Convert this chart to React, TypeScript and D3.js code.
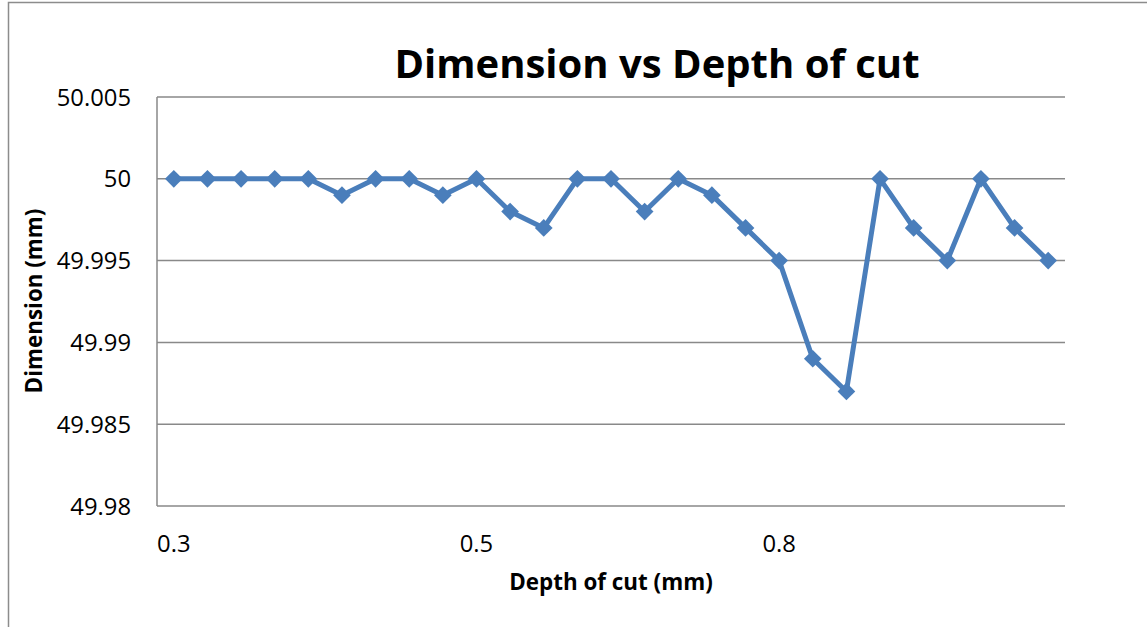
import React from "react";
import * as d3 from "d3";

const categories: number[] = [
  0.3, 0.3, 0.3, 0.3, 0.3, 0.3, 0.3, 0.3, 0.3,
  0.5, 0.5, 0.5, 0.5, 0.5, 0.5, 0.5, 0.5, 0.5,
  0.8, 0.8, 0.8, 0.8, 0.8, 0.8, 0.8, 0.8, 0.8,
];
const dimension: number[] = [
  50, 50, 50, 50, 50, 49.999, 50, 50, 49.999,
  50, 49.998, 49.997, 50, 50, 49.998, 50, 49.999, 49.997,
  49.995, 49.989, 49.987, 50, 49.997, 49.995, 50, 49.997, 49.995,
];
const yTicks: number[] = [49.98, 49.985, 49.99, 49.995, 50, 50.005];
const xLabelEvery = 9;

const W = 1147;
const H = 627;
const plot = { left: 157, right: 1065, top: 97, bottom: 506 };
const FONT = "'Open Sans', sans-serif";
const BLUE = "#4a7ebb";
const GRID = "#898989";

export default function App() {
  const idx = categories.map((_, i) => i);
  const x = d3.scalePoint<number>().domain(idx).range([plot.left, plot.right]).padding(0.5);
  const y = d3.scaleLinear().domain([49.98, 50.005]).range([plot.bottom, plot.top]);
  const line = d3
    .line<number>()
    .x((_, i) => x(i) as number)
    .y((d) => y(d));
  const diamond = d3.symbol().type(d3.symbolDiamond2).size(200)();

  const fmtY = (v: number) => String(+v.toFixed(3));

  return (
    <svg
      width={W}
      height={H}
      style={{ position: "absolute", left: 0, top: 0, background: "#fff" }}
      fontFamily={FONT}
    >
      <rect x={0} y={0} width={W} height={H} fill="#fff" />
      <rect x={8.5} y={2.5} width={W + 20} height={H + 20} fill="none" stroke="#8c8c8c" strokeWidth={1.5} />

      {yTicks.map((t) => (
        <line
          key={"g" + t}
          x1={plot.left}
          x2={plot.right}
          y1={y(t)}
          y2={y(t)}
          stroke={GRID}
          strokeWidth={1.5}
        />
      ))}
      <line x1={plot.left} x2={plot.left} y1={plot.top} y2={plot.bottom} stroke={GRID} strokeWidth={1.5} />

      {yTicks.map((t) => (
        <text
          key={"t" + t}
          x={131}
          y={y(t)}
          dy="0.36em"
          textAnchor="end"
          fontSize={23.8}
          fill="#000"
        >
          {fmtY(t)}
        </text>
      ))}

      {categories.map((c, i) =>
        i % xLabelEvery === 0 ? (
          <text key={"x" + i} x={x(i) as number} y={552} textAnchor="middle" fontSize={23.8} fill="#000">
            {String(c)}
          </text>
        ) : null
      )}

      <path d={line(dimension) || ""} fill="none" stroke={BLUE} strokeWidth={5} strokeLinejoin="round" />
      {dimension.map((v, i) => (
        <path key={"m" + i} d={diamond || ""} transform={`translate(${x(i)},${y(v)})`} fill={BLUE} />
      ))}

      <text x={657} y={78} textAnchor="middle" fontSize={40} fontWeight="bold" fill="#000">
        Dimension vs Depth of cut
      </text>
      <text x={611} y={590} textAnchor="middle" fontSize={22.4} fontWeight="bold" fill="#000">
        Depth of cut (mm)
      </text>
      <text
        transform={`translate(42,301) rotate(-90)`}
        textAnchor="middle"
        fontSize={22.4}
        fontWeight="bold"
        fill="#000"
      >
        Dimension (mm)
      </text>
    </svg>
  );
}
